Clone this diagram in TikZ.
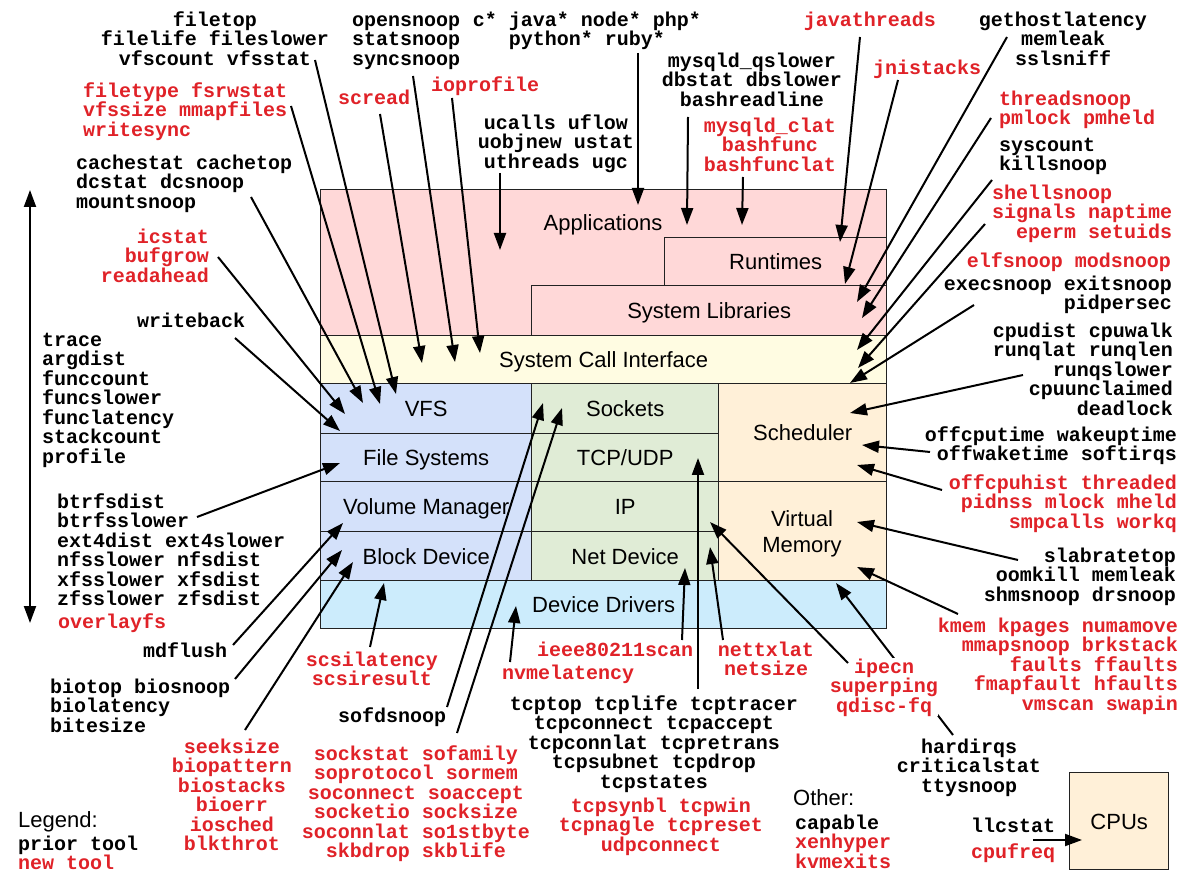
\documentclass[tikz,border=0pt]{standalone}
\usepackage{fontspec}
\setmainfont{Liberation Sans}
\setmonofont{Liberation Mono}
\usetikzlibrary{arrows.meta}
\lineskiplimit=-100pt
\definecolor{tred}{RGB}{224,34,40}
\definecolor{cpink}{RGB}{255,216,216}
\definecolor{cyel}{RGB}{255,252,226}
\definecolor{cblue}{RGB}{212,225,250}
\definecolor{cgreen}{RGB}{224,236,214}
\definecolor{corange}{RGB}{255,240,216}
\definecolor{ccyan}{RGB}{204,236,252}
\definecolor{bord}{RGB}{34,34,34}
\newcommand\tlfont{\ttfamily\bfseries\fontsize{20}{19.5}\selectfont}
\newcommand\lbfont{\rmfamily\fontsize{22}{26}\selectfont}
\newcommand\tst{\rule{0pt}{15pt}}
\begin{document}
\begin{tikzpicture}[x=1pt,y=-1pt,
 tl/.style={font=\tlfont,inner sep=0pt,text=black},
 tr/.style={tl,text=tred},
 bx/.style={draw=bord,line width=1.4pt,inner sep=0pt,anchor=north west,font=\lbfont,text=black},
 bxl/.style={bx,text height=15.8pt,text depth=0pt},
 lb/.style={font=\lbfont,inner sep=0pt,text=black},
 arr/.style={line width=2pt,-{Triangle[length=17pt,width=12pt]}}]
\fill[white] (0,0) rectangle (1200,882);
\useasboundingbox (0,0) rectangle (1200,882);
% ---- stack boxes
\node[bx,fill=cpink,minimum width=566pt,minimum height=146pt] (apps) at (320,189) {};
\node[lb,text height=15.8pt,text depth=0pt] (appsl) at (603,223) {Applications};
\node[bxl,fill=cpink,minimum width=222pt,minimum height=48pt] (rt) at (664,237) {Runtimes};
\node[bxl,fill=cpink,minimum width=355pt,minimum height=50pt] (sl) at (531,285) {System Libraries};
\node[bxl,fill=cyel,minimum width=566pt,minimum height=48pt] (sci) at (320,335) {System Call Interface};
\node[bxl,fill=cblue,minimum width=211pt,minimum height=50pt] (vfs) at (320,383) {VFS};
\node[bxl,fill=cblue,minimum width=211pt,minimum height=48pt] (fs) at (320,433) {File Systems};
\node[bxl,fill=cblue,minimum width=211pt,minimum height=50pt] (vm) at (320,481) {Volume Manager};
\node[bxl,fill=cblue,minimum width=211pt,minimum height=49pt] (bd) at (320,531) {Block Device};
\node[bxl,fill=cgreen,minimum width=187pt,minimum height=50pt] (sock) at (531,383) {Sockets};
\node[bxl,fill=cgreen,minimum width=187pt,minimum height=48pt] (tcpb) at (531,433) {TCP/UDP};
\node[bxl,fill=cgreen,minimum width=187pt,minimum height=50pt] (ip) at (531,481) {IP};
\node[bxl,fill=cgreen,minimum width=187pt,minimum height=49pt] (nd) at (531,531) {Net Device};
\node[bxl,fill=corange,minimum width=168pt,minimum height=98pt] (sched) at (718,383) {Scheduler};
\node[bx,fill=corange,minimum width=168pt,minimum height=99pt] (vmem) at (718,481) {};
\node[lb,align=center] (vmeml) at (802,534) {Virtual\\Memory};
\node[bxl,fill=ccyan,minimum width=566pt,minimum height=48pt] (dd) at (320,580) {Device Drivers};
\node[bxl,fill=corange,minimum width=99pt,minimum height=97pt] (cpus) at (1069,772) {CPUs};
% ---- left double arrow
\coordinate (lt) at (30,190);
\coordinate (lbt) at (30,623);
\draw[line width=2pt,{Triangle[length=17pt,width=12pt]}-{Triangle[length=17pt,width=12pt]}] (lt) -- (lbt);
% ---- tool labels
\node[tl,anchor=north,align=center] (nfiletop) at (215,11) {\tst filetop\\filelife fileslower\\vfscount vfsstat};
\node[tl,anchor=north west,align=left] (nopen) at (352,11) {\tst opensnoop\\statsnoop\\syncsnoop};
\node[tl,anchor=north,align=center] (nlang) at (587,11) {\tst c* java* node* php*\\python* ruby*};
\node[tr,anchor=north] (njavath) at (870,11) {\tst javathreads};
\node[tl,anchor=north,align=center] (ngeth) at (1063,11) {\tst gethostlatency\\memleak\\sslsniff};
\node[tr,anchor=north west,align=left] (nftype) at (83,82) {\tst filetype fsrwstat\\vfssize mmapfiles\\writesync};
\node[tr,anchor=north west] (nscread) at (338,89) {\tst scread};
\node[tr,anchor=north west] (nioprof) at (431,76) {\tst ioprofile};
\node[tl,anchor=north,align=center] (nmysql) at (752,52) {\tst mysqld\_qslower\\dbstat dbslower\\bashreadline};
\node[tr,anchor=north west] (njni) at (873,59) {\tst jnistacks};
\node[tr,anchor=north west,align=left] (nthr) at (999,90) {\tst threadsnoop\\pmlock pmheld};
\node[tl,anchor=north west,align=left] (nsysc) at (999,136) {\tst syscount\\killsnoop};
\node[tr,anchor=north west,align=left] (nshell) at (992,184) {\tst shellsnoop\\signals naptime\\\hphantom{xx}eperm setuids};
\node[tr,anchor=north east] (nelf) at (1171,252) {\tst elfsnoop modsnoop};
\node[tl,anchor=north east,align=right] (nexec) at (1172,275) {\tst execsnoop exitsnoop\\pidpersec};
\node[tl,anchor=north east,align=right] (ncpud) at (1173,322) {\tst cpudist cpuwalk\\runqlat runqlen\\runqslower\\cpuunclaimed\\deadlock};
\node[tl,anchor=north east,align=right] (noffc) at (1177,426) {\tst offcputime wakeuptime\\offwaketime softirqs};
\node[tr,anchor=north east,align=right] (noffh) at (1177,474) {\tst offcpuhist threaded\\pidnss mlock mheld\\smpcalls workq};
\node[tl,anchor=north east,align=right] (nslab) at (1176,547) {\tst slabratetop\\oomkill memleak\\shmsnoop drsnoop};
\node[tr,anchor=north east,align=right] (nkmem) at (1178,617) {\tst kmem kpages numamove\\mmapsnoop brkstack\\faults ffaults\\fmapfault hfaults\\vmscan swapin};
\node[tl,anchor=north,align=center] (nhard) at (969,738) {\tst hardirqs\\criticalstat\\ttysnoop};
\draw[arr] ([shift={(-16,-3)}]nhard.north) -- ([shift={(516,3)}]dd.north west);
\node[tr,anchor=north,align=center,fill=white] (nipecn) at (884,658) {\tst ipecn\\superping\\qdisc-fq};
\node[tl,anchor=north west] (nllc) at (971,817) {\tst llcstat};
\node[tr,anchor=north west] (ncpuf) at (971,843) {\tst cpufreq};
\node[lb,anchor=base west] (nother) at (793,805) {Other:};
\node[tl,anchor=north west,align=left] (ncap) at (795,814) {\tst capable\\\textcolor{tred}{xenhyper}\\\textcolor{tred}{kvmexits}};
\node[tl,anchor=north,align=center] (ntcp) at (654,695) {\tst tcptop tcplife tcptracer\\tcpconnect tcpaccept\\tcpconnlat tcpretrans\\tcpsubnet tcpdrop\\tcpstates};
\node[tr,anchor=north,align=center] (ntcpr) at (661,797) {\tst tcpsynbl tcpwin\\tcpnagle tcpreset\\udpconnect};
\node[tr,anchor=north west] (nieee) at (537,641) {\tst ieee80211scan};
\node[tr,anchor=north west] (nnvme) at (502,664) {\tst nvmelatency};
\node[tr,anchor=north,align=center] (nnettx) at (766,641) {\tst nettxlat\\netsize};
\node[tr,anchor=north,align=center] (nscsi) at (372,651) {\tst scsilatency\\scsiresult};
\node[tl,anchor=north west] (nsofd) at (338,707) {\tst sofdsnoop};
\node[tr,anchor=north,align=center] (nsock) at (416,745) {\tst sockstat sofamily\\soprotocol sormem\\soconnect soaccept\\socketio socksize\\soconnlat so1stbyte\\skbdrop skblife};
\node[tr,anchor=north,align=center] (nseek) at (232,738) {\tst seeksize\\biopattern\\biostacks\\bioerr\\iosched\\blkthrot};
\node[tl,anchor=north west,align=left] (nbiot) at (50,678) {\tst biotop biosnoop\\biolatency\\bitesize};
\node[tl,anchor=north west] (nmdf) at (143,642) {\tst mdflush};
\node[tr,anchor=north west] (novl) at (58,613) {\tst overlayfs};
\node[tl,anchor=north west,align=left] (nbtr) at (57,493) {\tst btrfsdist\\btrfsslower\\ext4dist ext4slower\\nfsslower nfsdist\\xfsslower xfsdist\\zfsslower zfsdist};
\node[tl,anchor=north west,align=left] (ntrace) at (42,331) {\tst trace\\argdist\\funccount\\funcslower\\funclatency\\stackcount\\profile};
\node[tl,anchor=north west] (nwb) at (137,312) {\tst writeback};
\node[tr,anchor=north east,align=right] (nic) at (209,228) {\tst icstat\\bufgrow\\readahead};
\node[tl,anchor=north west,align=left] (ncache) at (76,154) {\tst cachestat cachetop\\dcstat dcsnoop\\mountsnoop};
\node[tl,anchor=north,align=center] (nucalls) at (556,114) {\tst ucalls uflow\\uobjnew ustat\\uthreads ugc};
\node[tr,anchor=north,align=center] (nmyclat) at (770,117) {\tst mysqld\_clat\\bashfunc\\bashfunclat};
\node[lb,anchor=base west] (nlegend) at (18,827) {Legend:};
\node[tl,anchor=north west] (nprior) at (18,835) {\tst prior tool};
\node[tr,anchor=north west] (nnew) at (18,854) {\tst new tool};
% ---- connectors
\draw[arr] ([shift={(-56,59)}]nucalls.north) -- ([shift={(180,61)}]apps.north west);
\draw[arr] ([shift={(51,42)}]nlang.north) -- ([shift={(318,16)}]apps.north west);
\draw[arr] ([shift={(-64,65)}]nmysql.north) -- ([shift={(367,36)}]apps.north west);
\draw[arr] ([shift={(-27,60)}]nmyclat.north) -- ([shift={(422,36)}]apps.north west);
\draw[arr] ([shift={(-10,26)}]njavath.north) -- ([shift={(176,5)}]rt.north west);
\draw[arr] ([shift={(25,21)}]njni.north west) -- ([shift={(181,47)}]rt.north west);
\draw[arr] ([shift={(-56,26)}]ngeth.north) -- ([shift={(326,17)}]sl.north west);
\draw[arr] ([shift={(-8,28)}]nthr.north west) -- ([shift={(331,33)}]sl.north west);
\draw[arr] ([shift={(-7,44)}]nsysc.north west) -- ([shift={(537,15)}]sci.north west);
\draw[arr] ([shift={(-7,40)}]nshell.north west) -- ([shift={(538,33)}]sci.north west);
\draw[arr] ([shift={(-198,30)}]nexec.north east) -- ([shift={(530,48)}]sci.north west);
\draw[arr] ([shift={(-150,53)}]ncpud.north east) -- ([shift={(132,30)}]sched.north west);
\draw[arr] ([shift={(-247,26)}]noffc.north east) -- ([shift={(144,62)}]sched.north west);
\draw[arr] ([shift={(-235,16)}]noffh.north east) -- ([shift={(139,82)}]sched.north west);
\draw[arr] ([shift={(-158,13)}]nslab.north east) -- ([shift={(139,41)}]vmem.north west);
\draw[arr] ([shift={(-220,-3)}]nkmem.north east) -- ([shift={(139,86)}]vmem.north west);
\draw[arr] ([shift={(-36,5)}]nipecn.north) -- ([shift={(179,41)}]ip.north west);
\draw[arr] ([shift={(-43,-1)}]nnettx.north) -- ([shift={(179,16)}]nd.north west);
\draw[arr] ([shift={(145,-1)}]nieee.north west) -- ([shift={(154,37)}]nd.north west);
\draw[arr] ([shift={(44,-6)}]ntcp.north) -- ([shift={(167,25)}]tcpb.north west);
\draw[arr] ([shift={(8,-2)}]nnvme.north west) -- ([shift={(196,26)}]dd.north west);
\draw[arr] ([shift={(-2,-4)}]nscsi.north) -- ([shift={(64,3)}]dd.north west);
\draw[arr] ([shift={(109,0)}]nsofd.north west) -- ([shift={(12,20)}]sock.north west);
\draw[arr] ([shift={(41,-12)}]nsock.north) -- ([shift={(31,25)}]sock.north west);
\draw[arr] ([shift={(13,-8)}]nseek.north) -- ([shift={(33,31)}]bd.north west);
\draw[arr] ([shift={(185,1)}]nbiot.north west) -- ([shift={(22,19)}]bd.north west);
\draw[arr] ([shift={(90,3)}]nmdf.north west) -- ([shift={(23,42)}]vm.north west);
\draw[arr] ([shift={(140,24)}]nbtr.north west) -- ([shift={(20,30)}]fs.north west);
\draw[arr] ([shift={(98,26)}]nwb.north west) -- ([shift={(20,48)}]vfs.north west);
\draw[arr] ([shift={(9,29)}]nic.north east) -- ([shift={(25,31)}]vfs.north west);
\draw[arr] ([shift={(175,43)}]ncache.north west) -- ([shift={(43,20)}]vfs.north west);
\draw[arr] ([shift={(208,24)}]nftype.north west) -- ([shift={(60,21)}]vfs.north west);
\draw[arr] ([shift={(100,49)}]nfiletop.north) -- ([shift={(76,11)}]vfs.north west);
\draw[arr] ([shift={(42,25)}]nscread.north west) -- ([shift={(102,28)}]sci.north west);
\draw[arr] ([shift={(61,65)}]nopen.north west) -- ([shift={(135,27)}]sci.north west);
\draw[arr] ([shift={(21,22)}]nioprof.north west) -- ([shift={(160,18)}]sci.north west);
\draw[arr] ([shift={(62,23)}]nllc.north west) -- ([shift={(13,68)}]cpus.north west);
\end{tikzpicture}
\end{document}
